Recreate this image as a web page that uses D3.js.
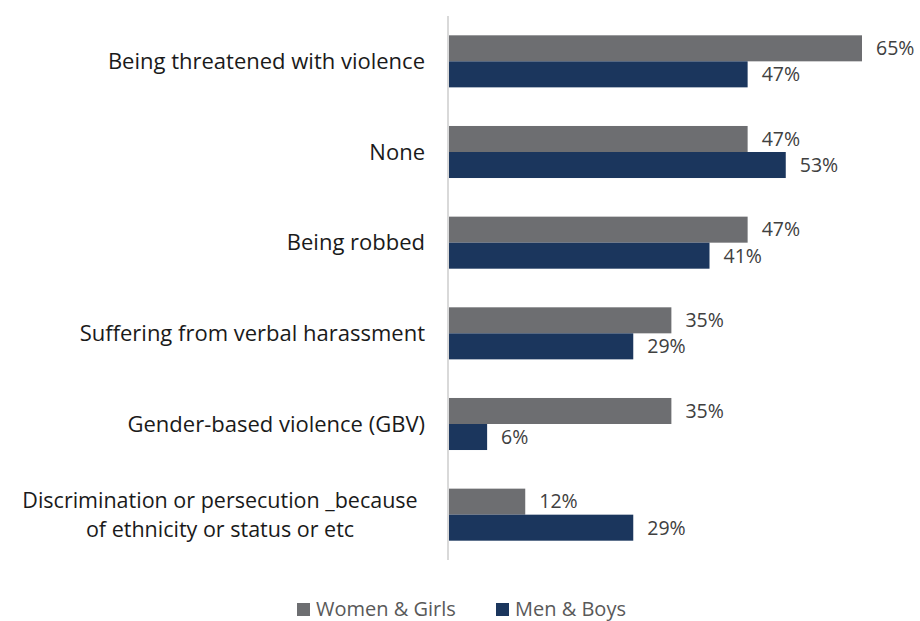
<!DOCTYPE html>
<html><head><meta charset="utf-8">
<script src="https://cdn.jsdelivr.net/npm/d3@7"></script>
<style>body{margin:0;background:#fff}svg{display:block}</style>
</head><body><svg id="c" width="920" height="621"></svg>
<script>
const categories = [
  ["Being threatened with violence"],
  ["None"],
  ["Being robbed"],
  ["Suffering from verbal harassment"],
  ["Gender-based violence (GBV)"],
  ["Discrimination or persecution _because", "of ethnicity or status or etc"]
];
const seriesNames = ["Women & Girls", "Men & Boys"];
const women = [65, 47, 47, 35, 35, 12];
const men = [47, 53, 41, 29, 6, 29];
const colors = ["#6d6e71", "#1b365d"];

const svg = d3.select("#c");
const x0 = 449, xMax65 = 862;
const x = d3.scaleLinear().domain([0, 65]).range([x0, xMax65]);
const y = d3.scaleBand().domain(d3.range(categories.length)).range([16, 560]).paddingInner(0.426).paddingOuter(0.213);
const ySub = d3.scaleBand().domain([0, 1]).range([0, y.bandwidth()]);

const data = [women, men];
data.forEach((vals, s) => {
  svg.append("g").selectAll("rect").data(vals).join("rect")
    .attr("x", x(0)).attr("y", (d, i) => y(i) + ySub(s))
    .attr("width", d => x(d) - x(0)).attr("height", ySub.bandwidth())
    .attr("fill", colors[s]);
  svg.append("g").selectAll("text").data(vals).join("text")
    .attr("x", d => x(d) + 14).attr("y", (d, i) => y(i) + ySub(s) + ySub.bandwidth() / 2)
    .attr("dy", "0.35em").attr("font-family", "'Open Sans', sans-serif").attr("font-size", 19.5)
    .attr("fill", "#404040").text(d => d + "%");
});

// axis line
svg.append("line").attr("x1", x0 - 1).attr("x2", x0 - 1).attr("y1", 16).attr("y2", 560)
  .attr("stroke", "#d9d9d9").attr("stroke-width", 2);

// category labels
categories.forEach((lines, i) => {
  const cy = y(i) + y.bandwidth() / 2;
  const lh = 29;
  if (lines.length === 1) {
    svg.append("text").attr("text-anchor", "end")
      .attr("font-family", "'Open Sans', sans-serif").attr("font-size", 22).attr("fill", "#1a1a1a")
      .attr("x", 425).attr("y", cy).attr("dy", "0.35em").text(lines[0]);
  } else {
    lines.forEach((l, k) => {
      svg.append("text").attr("text-anchor", "middle")
        .attr("font-family", "'Open Sans', sans-serif").attr("font-size", 21.5).attr("fill", "#1a1a1a")
        .attr("x", 220).attr("y", cy + (k - (lines.length - 1) / 2) * lh).attr("dy", "0.35em").text(l);
    });
  }
});

// legend
const leg = svg.append("g");
const items = [{x: 297}, {x: 496}];
seriesNames.forEach((n, s) => {
  leg.append("rect").attr("x", items[s].x).attr("y", 603).attr("width", 13).attr("height", 13).attr("fill", colors[s]);
  leg.append("text").attr("x", items[s].x + 19).attr("y", 609).attr("dy", "0.35em")
    .attr("font-family", "'Open Sans', sans-serif").attr("font-size", 20).attr("fill", "#595959").text(n);
});
</script></body></html>
